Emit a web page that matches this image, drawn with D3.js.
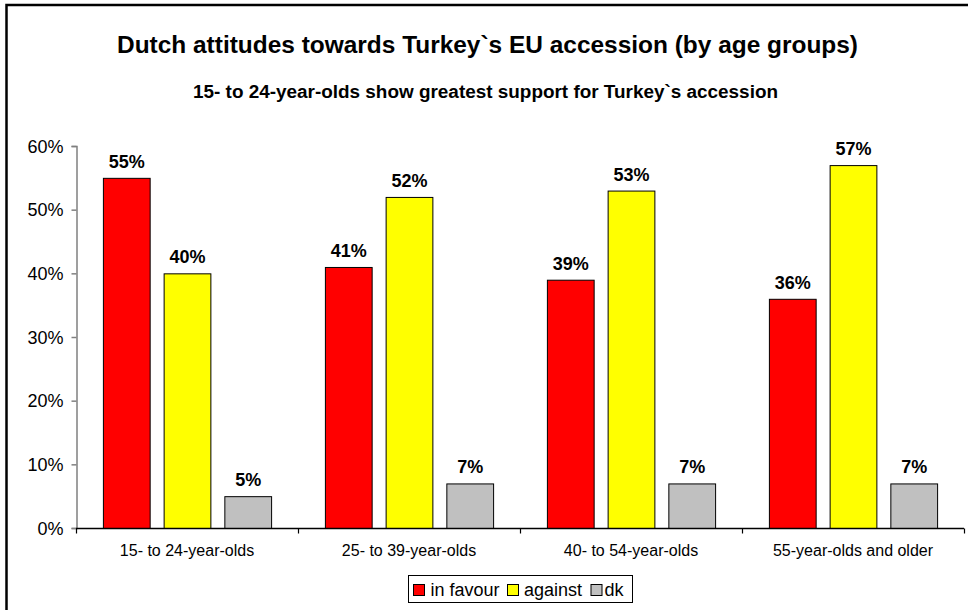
<!DOCTYPE html>
<html><head><meta charset="utf-8">
<script src="https://cdn.jsdelivr.net/npm/d3@7"></script>
<style>body{margin:0;background:#fff}svg{display:block;font-family:"Liberation Sans",Arial,sans-serif}</style>
</head><body>
<script>
const categories = ["15- to 24-year-olds","25- to 39-year-olds","40- to 54-year-olds","55-year-olds and older"];
const seriesNames = ["in favour","against","dk"];
const inFavour = [55,41,39,36];
const against = [40,52,53,57];
const dk = [5,7,7,7];
const yTicks = [0,10,20,30,40,50,60];
const colors = ["#FF0000","#FFFF00","#C0C0C0"];
const title = "Dutch attitudes towards Turkey`s EU accession (by age groups)";
const subtitle = "15- to 24-year-olds show greatest support for Turkey`s accession";

const W=968,H=610;
const svg=d3.select("body").append("svg").attr("width",W).attr("height",H);
svg.append("rect").attr("x",0).attr("y",0).attr("width",W).attr("height",H).attr("fill","#fff");
svg.append("rect").attr("x",6.5).attr("y",5).attr("width",1200).attr("height",1200)
  .attr("fill","none").attr("stroke","#000").attr("stroke-width",2.5);

svg.append("text").attr("x",487.5).attr("y",53).attr("text-anchor","middle")
  .attr("font-size",23).attr("font-weight","bold").attr("textLength",741).attr("lengthAdjust","spacingAndGlyphs").text(title);
svg.append("text").attr("x",485.5).attr("y",98).attr("text-anchor","middle")
  .attr("font-size",18).attr("font-weight","bold").attr("textLength",585).attr("lengthAdjust","spacingAndGlyphs").text(subtitle);

const x0=d3.scaleBand().domain(categories).range([76,964]).padding(0);
const x1=d3.scaleBand().domain(seriesNames).range([0,x0.bandwidth()]).paddingInner(0.23).paddingOuter(0.443);
const y=d3.scaleLinear().domain([0,60]).range([528,146]);

// y axis
const yAxis=svg.append("g").attr("transform","translate(76.5,0)")
  .call(d3.axisLeft(y).tickValues(yTicks).tickSize(5).tickPadding(8).tickFormat(d=>d+"%"));
yAxis.select(".domain").attr("stroke","#808080").attr("stroke-width",1.5);
yAxis.selectAll(".tick line").attr("stroke","#808080").attr("stroke-width",1.5);
yAxis.selectAll("text").attr("font-size",18).attr("fill","#000").attr("font-family","Liberation Sans, Arial, sans-serif").attr("dy","0.35em");

const data=categories.map((c,i)=>({cat:c,vals:[inFavour[i],against[i],dk[i]]}));
const g=svg.append("g");
data.forEach(d=>{
  d.vals.forEach((v,j)=>{
    const s=seriesNames[j];
    const bx=x0(d.cat)+x1(s);
    g.append("rect").attr("x",bx+0.5).attr("y",y(v)+0.5).attr("width",x1.bandwidth()).attr("height",y(0)-y(v))
      .attr("fill",colors[j]).attr("stroke","#000").attr("stroke-width",1);
    g.append("text").attr("x",bx+x1.bandwidth()/2+0.5).attr("y",y(v)-10).attr("text-anchor","middle")
      .attr("font-size",18).attr("font-weight","bold").text(v+"%");
  });
});

// x axis
const xAxis=svg.append("g").attr("transform","translate(0,528.5)");
xAxis.append("line").attr("x1",76).attr("x2",964).attr("stroke","#000").attr("stroke-width",1.5);
[...categories.map(c=>x0(c)),964].forEach(t=>{
  xAxis.append("line").attr("x1",t+0.5).attr("x2",t+0.5).attr("y1",0).attr("y2",5).attr("stroke","#000").attr("stroke-width",1.2);
});
categories.forEach(c=>{
  xAxis.append("text").attr("x",x0(c)+x0.bandwidth()/2).attr("y",27).attr("text-anchor","middle")
    .attr("font-size",16).text(c);
});

// legend
const lg=svg.append("g");
lg.append("rect").attr("x",408.5).attr("y",575.5).attr("width",224).attr("height",27).attr("fill","#fff").attr("stroke","#000").attr("stroke-width",1);
const lx=[413.5,507.5,591];
const tx=[430.5,524,604.5];
seriesNames.forEach((s,j)=>{
  lg.append("rect").attr("x",lx[j]).attr("y",584.5).attr("width",11).attr("height",11).attr("fill",colors[j]).attr("stroke","#000").attr("stroke-width",1);
  lg.append("text").attr("x",tx[j]).attr("y",596).attr("font-size",18).text(s);
});
</script>
</body></html>
